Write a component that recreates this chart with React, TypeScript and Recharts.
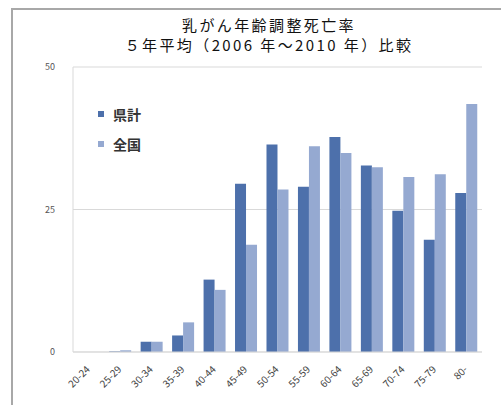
import React from "react";
import { BarChart, Bar, XAxis, YAxis, CartesianGrid } from "recharts";

// Age groups (5-year bands)
const ageGroups = ["20-24", "25-29", "30-34", "35-39", "40-44", "45-49", "50-54", "55-59", "60-64", "65-69", "70-74", "75-79", "80-"];
// Prefecture total (県計)
const prefValues = [0, 0.1, 1.8, 2.9, 12.7, 29.5, 36.4, 29.0, 37.7, 32.7, 24.8, 19.7, 27.9];
// National (全国)
const nationalValues = [0, 0.3, 1.8, 5.2, 10.9, 18.8, 28.5, 36.1, 34.9, 32.4, 30.7, 31.2, 43.5];
const yTicks = [0, 25, 50];
const seriesNames = ["県計", "全国"];

const titleLine1 = "乳がん年齢調整死亡率";
const titleLine2 = "５年平均（2006 年～2010 年）比較";

const PREF_COLOR = "#4d70ab";
const NATIONAL_COLOR = "#95a9d1";
const seriesColors = [PREF_COLOR, NATIONAL_COLOR];
const FONT = "'Noto Sans CJK JP', 'Noto Sans', sans-serif";

const data = ageGroups.map((age, i) => ({
  age,
  pref: prefValues[i],
  national: nationalValues[i],
}));

const AgeTick = (props: any) => {
  const { x, y, payload } = props;
  return (
    <g transform={`translate(${x + 2},${y + 10})`}>
      <text
        x={0}
        y={0}
        textAnchor="end"
        transform="rotate(-45)"
        fontSize={10}
        fill="#444"
        fontFamily={FONT}
      >
        {payload.value}
      </text>
    </g>
  );
};

export default function App() {
  return (
    <div
      style={{
        position: "fixed",
        left: 0,
        top: 0,
        width: 501,
        height: 405,
        background: "#fff",
        overflow: "hidden",
      }}
    >
      <div
        style={{
          position: "absolute",
          left: 11,
          top: 8,
          width: 600,
          height: 600,
          borderLeft: "2px solid #a8a8a8",
          borderTop: "2px solid #a8a8a8",
        }}
      />
      <div
        style={{
          position: "absolute",
          left: 0,
          width: 538,
          top: 15,
          textAlign: "center",
          fontFamily: FONT,
          fontSize: 15,
          letterSpacing: 2.4,
          lineHeight: "20px",
          color: "#111",
        }}
      >
        <div>{titleLine1}</div>
        <div>{titleLine2}</div>
      </div>
      <div style={{ position: "absolute", left: 0, top: 0 }}>
        <BarChart
          width={501}
          height={405}
          data={data}
          margin={{ top: 67, right: 19, bottom: 0, left: 0 }}
          barCategoryGap="15%"
          barGap={0}
        >
          <CartesianGrid vertical={false} stroke="#d9d9d9" />
          <XAxis
            dataKey="age"
            interval={0}
            height={53}
            axisLine={{ stroke: "#d9d9d9" }}
            tickLine={false}
            tick={<AgeTick />}
          />
          <YAxis
            domain={[0, 50]}
            ticks={yTicks}
            width={73}
            axisLine={{ stroke: "#d9d9d9" }}
            tickLine={false}
            tickSize={0}
            tickMargin={18}
            tick={{ fontSize: 9, fill: "#555", fontFamily: FONT }}
          />
          <Bar dataKey="pref" name={seriesNames[0]} fill={PREF_COLOR} isAnimationActive={false} />
          <Bar dataKey="national" name={seriesNames[1]} fill={NATIONAL_COLOR} isAnimationActive={false} />
        </BarChart>
      </div>
      <div
        style={{
          position: "absolute",
          left: 98,
          top: 99,
          fontFamily: FONT,
        }}
      >
        {seriesNames.map((name, i) => (
          <div key={name} style={{ display: "flex", alignItems: "center", height: 30 }}>
            <span
              style={{
                display: "inline-block",
                width: 6,
                height: 6,
                background: seriesColors[i],
                marginRight: 9,
              }}
            />
            <span style={{ fontSize: 14, fontWeight: 700, color: "#333" }}>{name}</span>
          </div>
        ))}
      </div>
    </div>
  );
}
